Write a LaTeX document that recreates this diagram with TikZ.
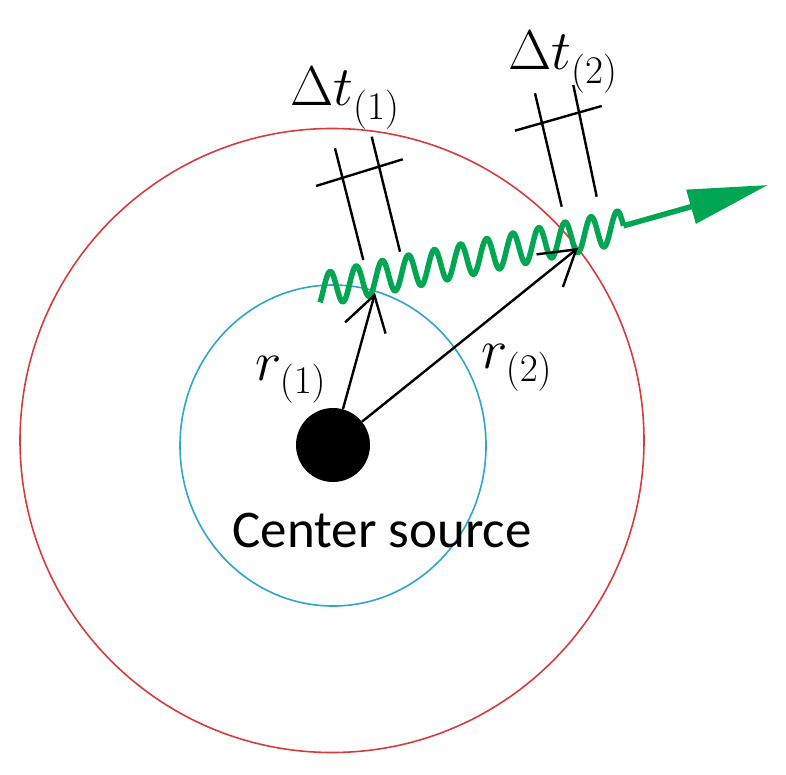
\RequirePackage{fix-cm}
\documentclass[tikz,border=0pt]{standalone}
\usepackage{fontspec}
\newfontfamily\carlito{Carlito}
\usetikzlibrary{arrows.meta}
\definecolor{ringred}{RGB}{215,60,60}
\definecolor{ringblue}{RGB}{45,165,205}
\definecolor{wavegreen}{RGB}{0,166,81}
\begin{document}
\begin{tikzpicture}[x=1pt,y=-1pt,
  ring/.style={line width=1.6pt},
  tickline/.style={line width=2.4pt, black},
  radial/.style={line width=2.4pt, black, -{Straight Barb[length=34pt,width=42pt]}},
  wave/.style={wavegreen, line width=5.5pt, line join=round},
  mathlabel/.style={inner sep=0pt, anchor=base west, font=\fontsize{56}{60}\selectfont},
  textlabel/.style={inner sep=0pt, anchor=base, font=\carlito\fontsize{53}{60}\selectfont}]
\useasboundingbox (0,0) rectangle (786,775);
\fill[white] (0,0) rectangle (786,775);
% rings
\draw[ring, ringred] (332,440.5) circle[radius=312];
\draw[ring, ringblue] (333,445.5) ellipse[x radius=153, y radius=160.5];
% source
\node[circle, fill=black, minimum size=74pt, inner sep=0pt] (src) at (333,445) {};
\node[textlabel] (srclabel) at (382,547) {Center source};
% wave packet
\draw[wave] plot[domain=320:623.5, samples=500, smooth]
  (\x, {288 - 0.21*(\x-330) - 16.5*sin(13.793*(\x-323.5))});
\coordinate (wend) at (623.5,225.8);
\coordinate (gtip) at (768,185);
\draw[wavegreen, line width=5.5pt, -{Triangle[length=80pt,width=34pt]}] (wend) -- (gtip);
% radial arrows
\coordinate (t1) at (375,293);
\coordinate (t2) at (578,248);
\draw[radial] (src) -- (t1);
\draw[radial] (src) -- (t2);
% tick marks 1
\coordinate (a1s) at (363.3,260); \coordinate (a1e) at (335,148.3);
\coordinate (b1s) at (400,251.7); \coordinate (b1e) at (371.7,136.7);
\coordinate (c1s) at (316,186);   \coordinate (c1e) at (402.7,159.3);
\draw[tickline] (a1s) -- (a1e);
\draw[tickline] (b1s) -- (b1e);
\draw[tickline] (c1s) -- (c1e);
% tick marks 2
\coordinate (a2s) at (561.7,206.7); \coordinate (a2e) at (535,93.3);
\coordinate (b2s) at (596.7,196.7); \coordinate (b2e) at (573.3,85);
\coordinate (c2s) at (515,130.7);   \coordinate (c2e) at (601.7,106);
\draw[tickline] (a2s) -- (a2e);
\draw[tickline] (b2s) -- (b2e);
\draw[tickline] (c2s) -- (c2e);
% labels
\node[mathlabel] (dt1) at (290,106) {$\Delta t_{\raisebox{-5pt}{$\scriptstyle(1)$}}$};
\node[mathlabel] (dt2) at (508,70) {$\Delta t_{\raisebox{-5pt}{$\scriptstyle(2)$}}$};
\node[mathlabel] (r1) at (255,380) {$r_{\raisebox{-5pt}{$\scriptstyle(1)$}}$};
\node[mathlabel] (r2) at (481,368) {$r_{\raisebox{-5pt}{$\scriptstyle(2)$}}$};
\end{tikzpicture}
\end{document}
